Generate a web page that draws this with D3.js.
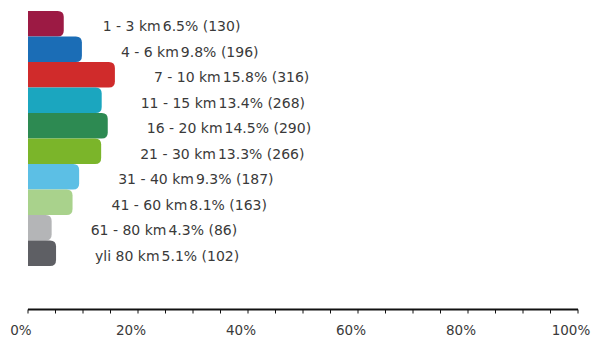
<!DOCTYPE html>
<html>
<head>
<meta charset="utf-8">
<script src="https://cdn.jsdelivr.net/npm/d3@7"></script>
<style>
  html, body { margin: 0; padding: 0; background: #fff; }
  svg { display: block; }
  text { font-family: "DejaVu Sans", Verdana, sans-serif; fill: #3a3a3a; }
</style>
</head>
<body>
<svg id="chart" width="593" height="337"></svg>
<script>
// Distance bands, share of respondents and counts
const categories = ["1 - 3 km", "4 - 6 km", "7 - 10 km", "11 - 15 km", "16 - 20 km",
                    "21 - 30 km", "31 - 40 km", "41 - 60 km", "61 - 80 km", "yli 80 km"];
const percents = [6.5, 9.8, 15.8, 13.4, 14.5, 13.3, 9.3, 8.1, 4.3, 5.1];
const counts = [130, 196, 316, 268, 290, 266, 187, 163, 86, 102];
const colors = ["#9c1a44", "#1b6db6", "#d02b2b", "#1ba6bf", "#2d8a52",
                "#7bb52a", "#5cbfe5", "#a9d28c", "#b4b5b7", "#5e5f64"];
const tickValues = [0, 20, 40, 60, 80, 100];
const minorTicks = d3.range(0, 101, 5);

const svg = d3.select("#chart");

const x = d3.scaleLinear().domain([0, 100]).range([28, 578]);
const y = d3.scaleBand().domain(categories).range([11, 266]).padding(0);

// Bars: square on the left, rounded on the right
const r = 6;
function barPath(x0, x1, y0, h) {
  const rr = Math.min(r, (x1 - x0), h / 2);
  return `M${x0},${y0}H${x1 - rr}Q${x1},${y0} ${x1},${y0 + rr}` +
         `V${y0 + h - rr}Q${x1},${y0 + h} ${x1 - rr},${y0 + h}H${x0}Z`;
}

const rows = categories.map((c, i) => ({ c, p: percents[i], n: counts[i], col: colors[i] }));

svg.append("g").selectAll("path")
  .data(rows)
  .join("path")
  .attr("d", d => barPath(x(0), x(d.p), y(d.c), y.bandwidth()))
  .attr("fill", d => d.col);

// Value labels to the right of each bar
const lbl = svg.append("g").selectAll("text")
  .data(rows)
  .join("text")
  .attr("x", d => x(d.p) + 39)
  .attr("y", d => y(d.c) + y.bandwidth() / 2 + 7.5)
  .attr("font-size", 14);
lbl.append("tspan").text(d => d.c);
lbl.append("tspan").attr("dx", 2).text(d => `${d.p.toFixed(1)}% (${d.n})`);

// Percentage axis
const axisY = 309.5;
const axisG = svg.append("g").attr("transform", `translate(0,${axisY})`);
axisG.append("line")
  .attr("x1", x(0)).attr("x2", x(100))
  .attr("stroke", "#111").attr("stroke-width", 2);
axisG.selectAll("line.tick")
  .data(minorTicks)
  .join("line")
  .attr("class", "tick")
  .attr("x1", d => x(d)).attr("x2", d => x(d))
  .attr("y1", 0).attr("y2", 4)
  .attr("stroke", "#111").attr("stroke-width", 1);
axisG.selectAll("text")
  .data(tickValues)
  .join("text")
  .attr("x", d => x(d) - 7)
  .attr("y", 25.5)
  .attr("text-anchor", "middle")
  .attr("font-size", 13.5)
  .text(d => d + "%");
</script>
</body>
</html>
